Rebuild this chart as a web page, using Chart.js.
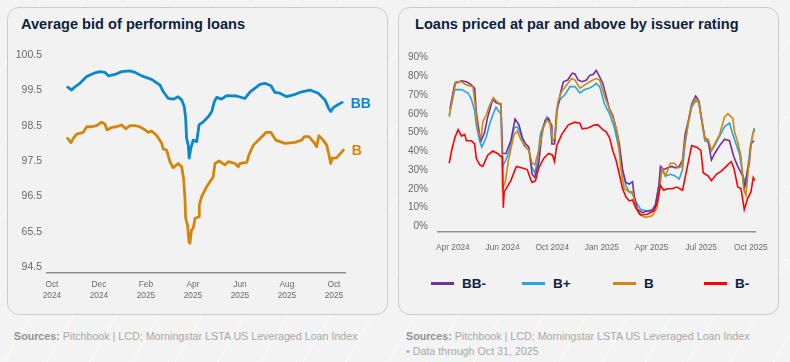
<!DOCTYPE html>
<html><head><meta charset="utf-8">
<script src="https://cdn.jsdelivr.net/npm/chart.js@4.4.1/dist/chart.umd.min.js"></script>
<style>
html,body{margin:0;padding:0;}
body{width:790px;height:362px;position:relative;overflow:hidden;background:#f3f3f3;font-family:"Liberation Sans",Arial,sans-serif;}
.bg{position:absolute;left:0;top:0;width:790px;height:362px;background:repeating-linear-gradient(120deg, rgba(255,255,255,0) 0px, rgba(255,255,255,0) 36px, rgba(255,255,255,0.5) 36px, rgba(255,255,255,0.5) 37px);}
.panel{position:absolute;top:7px;height:308px;width:381px;background:#f2f2f2;border:1px solid #cbcbcb;border-radius:12px;box-sizing:border-box;}
.title{position:absolute;font-weight:bold;font-size:14.6px;color:#0d2240;top:16px;white-space:nowrap;}
canvas{position:absolute;}
.src{position:absolute;font-family:"Liberation Sans",Arial;font-size:10.7px;color:#a8a8a8;white-space:nowrap;line-height:15px;}
.src b{color:#939393;}
#legend{position:absolute;left:431px;top:274px;height:18px;display:flex;}
.li{width:91px;display:flex;align-items:center;height:18px;}
.ln{width:23px;height:3px;margin-right:8px;}
.lt{font-weight:bold;font-size:13.5px;color:#0d2240;}
</style></head>
<body>
<div class="bg"></div>
<div class="panel" style="left:7px"></div>
<div class="panel" style="left:398px"></div>
<div class="title" style="left:21px">Average bid of performing loans</div>
<div class="title" style="left:415px">Loans priced at par and above by issuer rating</div>
<canvas id="c1" width="381" height="270" style="left:7px;top:40px;width:381px;height:270px"></canvas>
<canvas id="c2" width="381" height="218" style="left:398px;top:38px;width:381px;height:218px"></canvas>
<div id="legend"></div>
<div class="src" style="left:14px;top:329px"><b>Sources:</b> Pitchbook | LCD; Morningstar LSTA US Leveraged Loan Index</div>
<div class="src" style="left:406px;top:329px"><b>Sources:</b> Pitchbook | LCD; Morningstar LSTA US Leveraged Loan Index<br>• Data through Oct 31, 2025</div>
<script>
// ---------- Left chart data (x = months since Oct 2024) ----------
const leftTickMonths = [0, 2, 4, 6, 8, 10, 12];
const leftTickLabels = [["Oct","2024"],["Dec","2024"],["Feb","2025"],["Apr","2025"],["Jun","2025"],["Aug","2025"],["Oct","2025"]];
const leftYTicks = [94.5, 95.5, 96.5, 97.5, 98.5, 99.5, 100.5];
const leftYLabels = ["94.5", "65.5", "96.5", "97.5", "98.5", "99.5", "100.5"];
const leftSeriesNames = ["BB", "B"];

const bbMonths = [0.67,0.84,0.98,1.19,1.48,1.76,2.04,2.26,2.40,2.68,2.97,3.32,3.53,3.82,4.24,4.60,4.74,4.95,5.16,5.37,5.52,5.63,5.69,5.73,5.80,5.84,5.91,6.01,6.16,6.26,6.44,6.65,6.80,6.91,7.01,7.22,7.43,7.86,8.21,8.43,8.64,8.85,9.06,9.32,9.49,9.70,9.99,10.27,10.63,10.98,11.33,11.62,11.76,11.86,11.97,12.18,12.35];
const bbValues = [99.59,99.51,99.60,99.70,99.89,99.98,100.03,100.01,99.91,99.95,100.03,100.05,100.01,99.91,99.81,99.65,99.46,99.27,99.25,99.32,99.23,99.04,98.71,98.14,97.95,97.58,97.86,98.09,98.05,98.52,98.61,98.75,98.90,99.18,99.30,99.25,99.35,99.34,99.27,99.46,99.56,99.67,99.70,99.63,99.44,99.42,99.32,99.37,99.46,99.51,99.42,99.23,99.01,98.90,99.01,99.10,99.16];

const bMonths = [0.67,0.81,0.91,1.05,1.33,1.48,1.69,1.90,2.11,2.26,2.34,2.54,2.75,2.97,3.14,3.32,3.53,3.74,3.96,4.10,4.24,4.46,4.67,4.74,4.88,5.02,5.16,5.37,5.52,5.60,5.66,5.69,5.77,5.83,5.87,5.94,6.01,6.09,6.26,6.27,6.37,6.58,6.86,6.94,7.11,7.36,7.50,7.79,7.93,8.00,8.29,8.38,8.57,8.78,9.11,9.32,9.53,9.91,10.34,10.63,10.74,10.94,11.12,11.26,11.36,11.54,11.69,11.79,11.86,11.93,12.11,12.40];
const bValues = [98.14,98.02,98.14,98.26,98.31,98.47,98.47,98.50,98.60,98.54,98.38,98.45,98.47,98.52,98.41,98.50,98.50,98.47,98.38,98.31,98.35,98.22,98.00,97.84,97.81,97.48,97.31,97.43,97.34,97.01,96.44,95.88,95.69,95.22,95.17,95.55,95.59,95.88,95.92,96.25,96.49,96.77,97.05,97.43,97.50,97.39,97.48,97.43,97.34,97.43,97.46,97.67,97.95,98.09,98.31,98.31,98.09,98.00,98.03,98.09,98.19,98.19,98.05,97.90,98.22,98.09,97.95,97.67,97.43,97.58,97.59,97.81];

// ---------- Right chart data (x = position along axis, label every 10) ----------
const rightTickPos = [0, 10, 20, 30, 40, 50, 60];
const rightTickLabels = ["Apr 2024","Jun 2024","Oct 2024","Jan 2025","Apr 2025","Jul 2025","Oct 2025"];
const rightYTicks = [0, 10, 20, 30, 40, 50, 60, 70, 80, 90];
const ratingNames = ["BB-", "B+", "B", "B-"];

const bbMinusPos = [-0.60,0.40,1.73,2.72,3.72,4.37,4.71,5.36,5.70,6.36,7.01,8.01,8.68,9.34,9.68,9.99,10.67,11.66,12.52,13.31,13.97,14.64,15.30,15.95,16.49,17.29,17.94,18.62,19.27,19.81,19.93,20.47,20.92,21.60,22.25,23.11,23.58,24.05,24.58,25.23,26.03,26.89,27.56,28.22,28.87,29.55,30.20,30.86,31.53,32.19,32.84,33.52,34.17,34.83,35.51,36.16,36.50,37.16,38.15,39.14,40.14,40.80,41.47,41.79,42.46,43.12,44.11,44.77,45.56,46.24,46.76,47.43,48.08,48.88,49.53,50.07,50.73,51.40,52.06,52.72,53.71,54.70,55.69,56.57,57.36,58.35,58.67,59.35,59.67,60.00,60.66];
const bbMinusVals = [62.7,76.3,77.7,77.2,75.5,73.8,61.0,49.1,45.7,49.9,58.4,67.8,66.1,65.3,65.3,38.9,38.9,45.7,57.3,54.2,47.4,44.0,42.3,27.8,26.1,33.7,49.9,56.7,57.6,54.2,44.0,44.0,61.0,70.4,77.2,78.1,80.0,81.8,81.4,78.1,77.2,78.1,80.6,81.0,83.2,79.8,76.3,69.5,62.7,59.3,52.5,44.0,30.3,23.5,22.6,23.9,16.7,9.0,7.3,8.2,8.2,11.6,21.8,32.0,30.3,31.2,32.0,31.2,32.0,35.4,49.1,56.7,65.3,69.5,67.0,57.6,47.4,45.7,35.4,38.9,43.1,46.5,45.7,37.2,32.0,26.9,20.1,30.3,32.9,44.0,45.7];

const bPlusPos = [-0.74,-0.26,0.40,1.73,3.04,3.72,4.37,4.71,5.36,5.82,6.70,7.35,8.01,8.68,9.34,9.68,9.99,10.67,11.33,12.32,12.97,13.65,14.31,15.30,15.83,16.49,16.95,17.62,18.28,18.94,19.61,19.93,20.47,20.92,21.60,22.59,23.58,24.58,25.57,26.56,27.56,28.55,28.87,29.55,30.54,31.53,32.53,33.52,34.17,34.83,35.51,36.16,36.82,37.81,39.14,40.14,40.80,41.47,42.14,42.80,43.79,44.77,45.56,46.24,46.76,47.43,48.08,48.88,49.53,50.07,50.73,51.40,52.06,52.72,53.71,54.70,55.69,56.37,57.03,57.68,58.35,59.01,59.47,60.00,60.66];
const bPlusVals = [58.4,66.1,73.0,73.0,71.2,67.8,61.9,54.2,45.7,42.3,47.4,54.2,59.3,63.6,61.0,60.0,32.0,35.4,40.5,52.5,53.3,49.1,43.1,40.5,32.0,28.6,33.7,49.1,54.2,58.4,54.2,45.7,45.7,62.7,67.8,70.4,74.6,74.6,71.2,73.0,73.8,75.5,76.3,74.6,65.3,60.2,52.5,40.5,29.5,21.8,18.4,17.5,13.3,9.0,8.2,9.0,11.6,21.8,30.3,26.9,27.8,26.9,25.2,30.3,44.0,55.1,63.6,67.0,66.1,56.7,45.7,44.9,40.5,43.1,48.2,53.3,55.1,49.1,44.0,38.9,27.8,21.8,33.7,44.0,52.5];

const bPos = [-0.74,0.06,0.60,1.73,2.72,4.03,4.51,5.03,5.70,6.02,6.70,7.35,8.15,9.00,9.68,9.99,10.53,11.19,12.32,12.97,13.65,14.64,15.30,15.95,16.49,17.29,18.28,18.94,19.61,20.07,20.60,21.12,21.92,22.92,23.91,24.58,25.57,26.56,27.56,28.22,28.87,29.55,30.54,31.53,32.53,33.18,33.84,34.51,35.51,36.16,36.70,37.49,38.80,40.14,41.13,41.79,42.14,42.80,43.79,44.65,45.30,46.10,46.76,47.43,48.08,48.74,49.41,50.07,50.73,51.40,52.06,52.72,53.71,54.70,55.37,56.37,56.69,57.36,58.02,58.55,59.01,59.67,60.34,60.80];
const bVals = [59.3,69.5,77.2,77.2,75.5,74.6,64.4,50.8,47.4,55.9,59.3,64.4,68.7,66.1,65.5,20.1,23.5,35.4,49.1,50.8,46.5,42.3,40.5,33.7,32.9,40.5,53.3,56.7,55.1,45.7,47.4,66.1,72.1,75.5,78.9,78.1,73.8,75.5,77.2,78.1,78.9,78.1,69.5,62.7,55.9,49.1,30.3,20.1,18.4,18.4,11.6,6.5,4.8,5.6,9.9,23.5,31.2,26.9,33.7,33.7,31.2,32.0,45.7,55.9,64.4,67.8,67.0,57.6,46.5,46.5,40.5,44.0,49.1,58.4,60.2,57.6,50.8,44.9,37.2,20.1,16.7,35.4,49.1,51.6];

const bMinusPos = [-0.74,-0.26,0.40,1.05,1.73,2.38,2.72,3.72,4.37,4.71,5.36,6.02,7.01,8.01,9.00,9.68,10.00,10.15,10.33,11.66,12.78,13.97,14.96,15.64,15.95,16.63,17.29,18.28,19.27,20.07,20.46,20.92,21.92,23.25,24.58,25.57,26.03,27.22,28.55,29.21,30.20,30.86,31.53,32.19,32.84,33.52,34.17,34.83,35.51,36.16,36.82,37.81,39.14,40.47,41.13,41.78,42.46,43.12,44.11,45.10,46.24,47.09,48.08,49.08,49.93,50.41,51.40,52.06,53.05,54.05,55.04,56.03,56.57,57.36,58.02,58.67,59.35,60.02,60.48,60.80];
const bMinusVals = [33.7,40.5,47.4,51.6,48.2,49.1,45.7,45.7,44.0,36.3,32.9,32.0,38.0,40.2,38.9,37.2,37.2,9.9,18.4,24.4,32.0,31.2,30.3,25.2,23.5,24.4,31.2,36.3,38.9,38.0,34.6,43.1,49.1,54.2,55.6,55.1,52.1,52.5,54.2,54.2,51.6,50.5,47.4,40.5,35.4,27.8,20.1,15.8,13.6,14.1,9.9,6.1,6.5,8.2,12.4,21.8,19.3,20.1,20.1,21.0,19.3,30.3,43.1,42.3,40.5,28.6,26.9,24.4,27.8,29.5,32.0,34.6,31.2,21.0,20.1,9.0,15.0,18.4,26.1,24.4];

const leftColors = ["#0a88cc", "#d4850b"];
const rightColors = ["#7030a0", "#2aa3de", "#d0860e", "#ff0000"];

const pts = (xs, ys) => xs.map((x, i) => ({x: x, y: ys[i]}));
const TICK_COLOR = "#6a6a6a";
const AXIS_COLOR = "#8f8f8f";

const endLabels = {
  id: 'endLabels',
  afterDatasetsDraw(chart) {
    const ctx = chart.ctx;
    chart.data.datasets.forEach((ds, i) => {
      const meta = chart.getDatasetMeta(i);
      const last = meta.data[meta.data.length - 1];
      ctx.save();
      ctx.font = 'bold 14px "Liberation Sans", Arial, sans-serif';
      ctx.fillStyle = ds.borderColor;
      ctx.textBaseline = 'middle';
      ctx.textAlign = 'left';
      ctx.fillText(ds.label, last.x + 8.5, last.y + 1.5);
      ctx.restore();
    });
  }
};

new Chart(document.getElementById('c1'), {
  type: 'line',
  data: {
    datasets: [
      {label: leftSeriesNames[0], data: pts(bbMonths, bbValues), borderColor: leftColors[0], borderWidth: 2.8, pointRadius: 0, tension: 0, borderJoinStyle: 'round', borderCapStyle: 'round'},
      {label: leftSeriesNames[1], data: pts(bMonths, bValues), borderColor: leftColors[1], borderWidth: 2.8, pointRadius: 0, tension: 0, borderJoinStyle: 'round', borderCapStyle: 'round'}
    ]
  },
  options: {
    responsive: false, animation: false, devicePixelRatio: 1,
    layout: {padding: {top: 11.5, right: 43, left: 0, bottom: 0}},
    plugins: {legend: {display: false}, tooltip: {enabled: false}},
    scales: {
      x: {
        type: 'linear', min: -0.21, max: 12.47,
        grid: {display: false, drawTicks: false},
        border: {display: true, color: AXIS_COLOR, width: 1.5},
        afterBuildTicks: s => { s.ticks = leftTickMonths.map(v => ({value: v})); },
        afterFit: s => { s.height = 37; },
        ticks: {autoSkip: false, maxRotation: 0, padding: 6, color: TICK_COLOR,
          font: {family: '"Liberation Sans", Arial', size: 8.3, lineHeight: 1.33},
          callback: (v, i) => leftTickLabels[i]}
      },
      y: {
        min: 94.33, max: 100.6,
        grid: {display: false, drawTicks: false},
        border: {display: false},
        afterBuildTicks: s => { s.ticks = leftYTicks.map(v => ({value: v})); },
        afterFit: s => { s.width = 40; },
        ticks: {padding: 5, color: TICK_COLOR, font: {family: '"Liberation Sans", Arial', size: 10.5},
          callback: (v, i) => leftYLabels[i]}
      }
    }
  },
  plugins: [endLabels]
});

const rightSeries = [[bbMinusPos, bbMinusVals], [bPlusPos, bPlusVals], [bPos, bVals], [bMinusPos, bMinusVals]];
const drawOrder = [2, 3, 1, 0];
new Chart(document.getElementById('c2'), {
  type: 'line',
  data: {
    datasets: rightSeries.map((s, i) => ({
      label: ratingNames[i], data: pts(s[0], s[1]), borderColor: rightColors[i],
      borderWidth: 1.6, pointRadius: 0, tension: 0, order: drawOrder[i]
    }))
  },
  options: {
    responsive: false, animation: false, devicePixelRatio: 1,
    layout: {padding: {top: 8, right: 20, left: 0, bottom: 0}},
    plugins: {legend: {display: false}, tooltip: {enabled: false}},
    scales: {
      x: {
        type: 'linear', min: -3, max: 61,
        grid: {display: false, drawTicks: false},
        border: {display: true, color: AXIS_COLOR, width: 1.5},
        afterBuildTicks: s => { s.ticks = rightTickPos.map(v => ({value: v})); },
        afterFit: s => { s.height = 24; },
        ticks: {autoSkip: false, maxRotation: 0, padding: 11, color: TICK_COLOR,
          font: {family: '"Liberation Sans", Arial', size: 8.3},
          callback: (v, i) => rightTickLabels[i]}
      },
      y: {
        min: -3, max: 92,
        grid: {display: false, drawTicks: false},
        border: {display: false},
        afterBuildTicks: s => { s.ticks = rightYTicks.map(v => ({value: v})); },
        afterFit: s => { s.width = 40; },
        ticks: {padding: 10, color: TICK_COLOR, font: {family: '"Liberation Sans", Arial', size: 10},
          callback: v => v + '%'}
      }
    }
  }
});

// legend
const lg = document.getElementById('legend');
ratingNames.forEach((n, i) => {
  const it = document.createElement('div'); it.className = 'li';
  const ln = document.createElement('div'); ln.className = 'ln'; ln.style.background = rightColors[i];
  const tx = document.createElement('span'); tx.className = 'lt'; tx.textContent = n;
  it.appendChild(ln); it.appendChild(tx); lg.appendChild(it);
});
</script>
</body></html>
